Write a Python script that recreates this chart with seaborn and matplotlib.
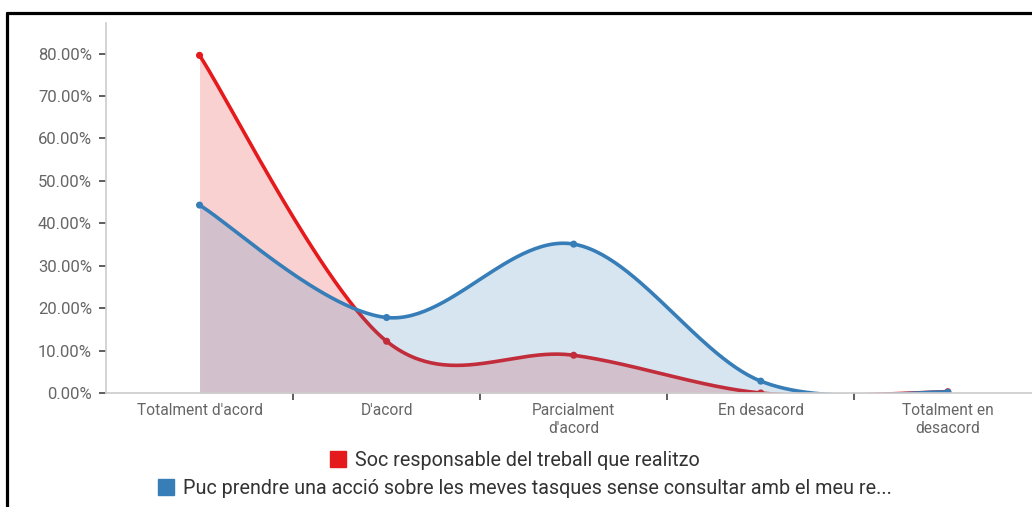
import numpy as np
import pandas as pd
import matplotlib
matplotlib.use("Agg")
import matplotlib.pyplot as plt
from matplotlib.lines import Line2D
import seaborn as sns

categories = ["Totalment d'acord", "D'acord", "Parcialment\nd'acord", "En desacord", "Totalment en\ndesacord"]
series_names = ["Soc responsable del treball que realitzo",
                "Puc prendre una acció sobre les meves tasques sense consultar amb el meu re..."]
red_values = [79.6, 12.2, 8.9, 0.0, 0.3]
blue_values = [44.3, 17.8, 35.1, 2.8, 0.2]
y_ticks = [0, 10, 20, 30, 40, 50, 60, 70, 80]
y_tick_labels = [f"{v:.2f}%" for v in y_ticks]

RED = "#e41a1c"
BLUE = "#377eb8"

sns.set_theme(style="white")
plt.rcParams["font.family"] = ["Roboto", "DejaVu Sans"]


def cardinal_curve(xv, yv, n=60):
    """Smooth rendering path (Catmull-Rom) through the data points."""
    pts = np.column_stack([xv, yv]).astype(float)
    ext = np.vstack([pts[0], pts, pts[-1]])
    out = []
    for i in range(1, len(ext) - 2):
        p0, p1, p2, p3 = ext[i - 1], ext[i], ext[i + 1], ext[i + 2]
        c1 = p1 + (p2 - p0) / 6.0
        c2 = p2 - (p3 - p1) / 6.0
        t = np.linspace(0, 1, n)[:, None]
        seg = ((1 - t) ** 3) * p1 + 3 * ((1 - t) ** 2) * t * c1 + 3 * (1 - t) * t ** 2 * c2 + t ** 3 * p2
        out.append(seg if i == 1 else seg[1:])
    path = np.vstack(out)
    return path[:, 0], path[:, 1]


fig = plt.figure(figsize=(10.32, 5.07), dpi=100)
ax = fig.add_axes([106 / 1032, (507 - 393) / 507, (1032 - 106) / 1032, (393 - 22.7) / 507])

x = np.arange(len(categories))
z = 1.0
for vals, col in [(red_values, RED), (blue_values, BLUE)]:
    sx, sy = cardinal_curve(x, vals)
    ax.fill_between(sx, 0, sy, color=col, alpha=0.2, linewidth=0, zorder=z)
    df = pd.DataFrame({"x": sx, "y": sy})
    sns.lineplot(data=df, x="x", y="y", ax=ax, color=col, linewidth=2.6, sort=False,
                 estimator=None, zorder=z + 0.1)
    sns.scatterplot(x=x, y=vals, ax=ax, color=col, s=26, edgecolor="none", zorder=z + 0.2)
    z += 0.5

ax.set_xlim(-0.5, 4.45)
ax.set_ylim(0, 87.3)
ax.set_xlabel("")
ax.set_ylabel("")

ax.set_yticks(y_ticks)
ax.set_yticklabels(y_tick_labels)
ax.tick_params(axis="y", length=5, width=1.1, color="#333333", labelcolor="#666666",
               labelsize=12, pad=5, left=True)

ax.set_xticks([0.5, 1.5, 2.5, 3.5])
ax.set_xticklabels([])
ax.tick_params(axis="x", which="major", length=5, width=1.1, color="#333333", bottom=True)
ax.set_xticks(x, minor=True)
ax.set_xticklabels(categories, minor=True, linespacing=1.3)
ax.tick_params(axis="x", which="minor", length=0, labelsize=11.2, labelcolor="#666666", pad=7)

for s in ["top", "right"]:
    ax.spines[s].set_visible(False)
for s in ["left", "bottom"]:
    ax.spines[s].set_color("#cccccc")
    ax.spines[s].set_linewidth(1.2)

# Legend rows (each centred)
for name, col, cx, yy in [(series_names[0], RED, 514, 460), (series_names[1], BLUE, 524, 488)]:
    h = Line2D([], [], marker="s", linestyle="", color=col, markersize=11)
    fig.legend([h], [name], loc="center", bbox_to_anchor=(cx / 1032, (507 - yy) / 507), frameon=False,
               fontsize=14.2, labelcolor="#333333", handletextpad=0.4, handlelength=1.0,
               borderpad=0, borderaxespad=0)

# outer frame (top and left)
fig.add_artist(Line2D([7 / 1032, 1], [1 - 13 / 507, 1 - 13 / 507], transform=fig.transFigure,
                      color="black", linewidth=2.3))
fig.add_artist(Line2D([7 / 1032, 7 / 1032], [0, 1 - 13 / 507], transform=fig.transFigure,
                      color="black", linewidth=2.3))

fig.savefig("out.png", dpi=100)
